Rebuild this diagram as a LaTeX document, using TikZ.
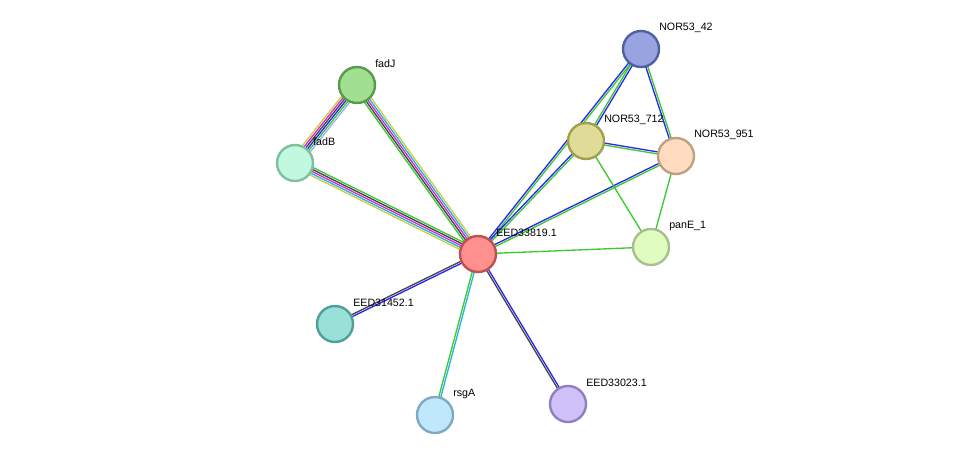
\documentclass[tikz,border=0pt]{standalone}
\usepackage{fontspec}
\setmainfont{Liberation Sans}
\usetikzlibrary{calc, backgrounds}
\definecolor{sgreen}{RGB}{60,200,50}
\definecolor{sblue}{RGB}{40,40,240}
\definecolor{scyan}{RGB}{40,180,220}
\definecolor{smag}{RGB}{220,40,220}
\definecolor{syel}{RGB}{200,210,60}
\definecolor{sdark}{RGB}{70,70,70}
\definecolor{slav}{RGB}{170,170,250}

% one coloured strand of an edge, offset sideways
\newcommand{\strand}[4]{%
  \draw[#3, line width=1pt] ($(#1)!#4!90:(#2)$) -- ($(#2)!#4!-90:(#1)$);}
\newcommand{\stredge}[3]{%
  \foreach \c/\o in {#3} {\strand{#1}{#2}{\c}{\o pt}}}

\begin{document}
\begin{tikzpicture}[
    x=0.75pt, y=-0.75pt,
    prot/.style={circle, minimum size=27pt, inner sep=0pt, line width=1.8pt},
    lbl/.style={anchor=west, inner sep=0pt, font=\fontsize{8}{9}\selectfont}
  ]
  \useasboundingbox (0,0) rectangle (975,461);

  % proteins
  \node (ctr) [prot, fill={rgb,255:red,255;green,144;blue,144}, draw={rgb,255:red,192;green,80;blue,80}] at (478,254) {};
  \node (fadJ) [prot, fill={rgb,255:red,160;green,224;blue,144}, draw={rgb,255:red,90;green,154;blue,80}] at (357,85) {};
  \node (fadB) [prot, fill={rgb,255:red,192;green,248;blue,224}, draw={rgb,255:red,128;green,192;blue,160}] at (295,163) {};
  \node (n42) [prot, fill={rgb,255:red,152;green,164;blue,224}, draw={rgb,255:red,80;green,96;blue,160}] at (641,49) {};
  \node (n712) [prot, fill={rgb,255:red,224;green,220;blue,152}, draw={rgb,255:red,160;green,160;blue,80}] at (586,141) {};
  \node (n951) [prot, fill={rgb,255:red,255;green,220;blue,192}, draw={rgb,255:red,192;green,160;blue,128}] at (676,156) {};
  \node (panE) [prot, fill={rgb,255:red,224;green,252;blue,192}, draw={rgb,255:red,168;green,192;blue,144}] at (651,247) {};
  \node (e452) [prot, fill={rgb,255:red,152;green,224;blue,216}, draw={rgb,255:red,80;green,160;blue,152}] at (335,324) {};
  \node (rsgA) [prot, fill={rgb,255:red,192;green,232;blue,252}, draw={rgb,255:red,128;green,168;blue,192}] at (435,415) {};
  \node (e023) [prot, fill={rgb,255:red,208;green,192;blue,248}, draw={rgb,255:red,144;green,128;blue,192}] at (568,404) {};

  % labels
  \node [lbl] at ($(ctr)+(18,-21)$) {EED33819.1};
  \node [lbl] at ($(fadJ)+(18,-21)$) {fadJ};
  \node [lbl] at ($(fadB)+(18,-21)$) {fadB};
  \node [lbl] at ($(n42)+(18,-21)$) {NOR53\_42};
  \node [lbl] at ($(n712)+(18,-21)$) {NOR53\_712};
  \node [lbl] at ($(n951)+(18,-21)$) {NOR53\_951};
  \node [lbl] at ($(panE)+(18,-21)$) {panE\_1};
  \node [lbl] at ($(e452)+(18,-21)$) {EED31452.1};
  \node [lbl] at ($(rsgA)+(18,-21)$) {rsgA};
  \node [lbl] at ($(e023)+(18,-21)$) {EED33023.1};

  % edges
  \begin{scope}[on background layer]
    \stredge{fadJ}{fadB}{syel/-3.75, smag/-2.25, sdark/-0.75, sblue/0.75, sgreen/2.25, slav/3.75}
    \stredge{fadJ}{ctr}{syel/3, scyan/1.5, smag/0, sdark/-1.5, sgreen/-3}
    \stredge{fadB}{ctr}{syel/-3, scyan/-1.5, smag/0, sdark/1.5, sgreen/3}
    \stredge{ctr}{n42}{sgreen/-0.75, sblue/0.75}
    \stredge{ctr}{n712}{sgreen/-0.75, sblue/0.75}
    \stredge{ctr}{n951}{sgreen/-0.75, sblue/0.75}
    \stredge{ctr}{panE}{sgreen/0}
    \stredge{ctr}{e452}{sdark/-0.75, sblue/0.75}
    \stredge{ctr}{rsgA}{sgreen/-0.75, scyan/0.75}
    \stredge{ctr}{e023}{sdark/-0.75, sblue/0.75}
    \stredge{n42}{n712}{sgreen/-0.75, sblue/0.75}
    \stredge{n42}{n951}{sblue/-0.75, sgreen/0.75}
    \stredge{n712}{n951}{sgreen/-0.75, sblue/0.75}
    \stredge{n712}{panE}{sgreen/0}
    \stredge{n951}{panE}{sgreen/0}
  \end{scope}
\end{tikzpicture}
\end{document}
